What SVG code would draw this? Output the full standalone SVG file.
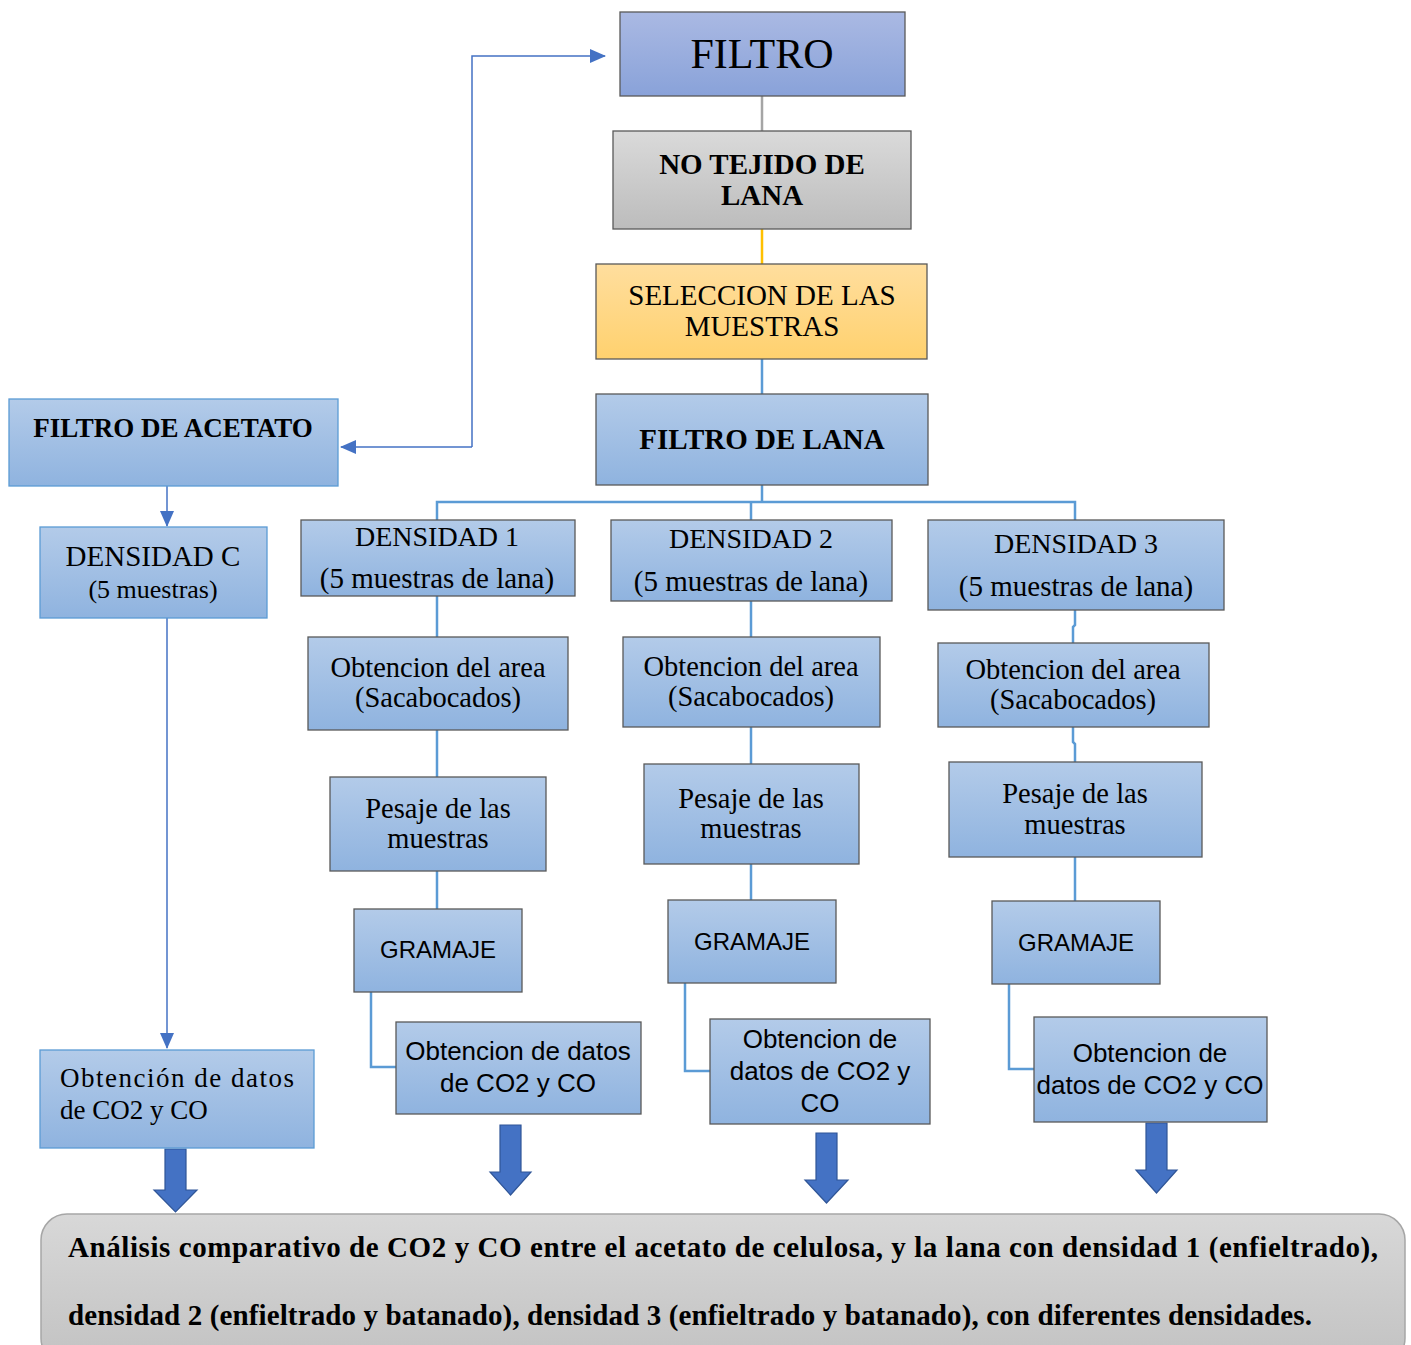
<svg xmlns="http://www.w3.org/2000/svg" width="1411" height="1345" viewBox="0 0 1411 1345">
<defs>
<linearGradient id="gBlue" x1="0" y1="0" x2="0" y2="1"><stop offset="0" stop-color="#b3cbe9"/><stop offset="1" stop-color="#8fb3df"/></linearGradient>
<linearGradient id="gFiltro" x1="0" y1="0" x2="0" y2="1"><stop offset="0" stop-color="#aab9e3"/><stop offset="1" stop-color="#89a2d9"/></linearGradient>
<linearGradient id="gGray" x1="0" y1="0" x2="0" y2="1"><stop offset="0" stop-color="#dadada"/><stop offset="1" stop-color="#bcbcbc"/></linearGradient>
<linearGradient id="gOrange" x1="0" y1="0" x2="0" y2="1"><stop offset="0" stop-color="#ffde9e"/><stop offset="1" stop-color="#ffd16e"/></linearGradient>
<linearGradient id="gBottom" x1="0" y1="0" x2="0" y2="1"><stop offset="0" stop-color="#d8d8d8"/><stop offset="1" stop-color="#c2c2c2"/></linearGradient>
<marker id="ahL" markerWidth="16" markerHeight="14" refX="15" refY="7" orient="auto" markerUnits="userSpaceOnUse"><path d="M0,0 L16,7 L0,14 Z" fill="#4472c4"/></marker>
</defs>
<style>
.bx{fill:url(#gBlue);stroke:#595959;stroke-width:1.3}
.bxl{fill:url(#gBlue);stroke:#5b9bd5;stroke-width:1.3}
.t{font-family:"Liberation Serif","Times New Roman",serif;fill:#000;text-anchor:middle}
.tb{font-family:"Liberation Serif","Times New Roman",serif;font-weight:bold;fill:#000;text-anchor:middle}
.s{font-family:"Liberation Sans",Arial,sans-serif;fill:#000;text-anchor:middle}
.c{fill:none;stroke:#5b9bd5;stroke-width:2.5}
.a{fill:none;stroke:#4472c4;stroke-width:1.5}
.blk{fill:#4472c4;stroke:#2f5597;stroke-width:1.2}
</style>

<g id="connectors">
<line x1="762" y1="96" x2="762" y2="131" stroke="#a5a5a5" stroke-width="2.5"/>
<line x1="762" y1="229" x2="762" y2="264" stroke="#ffc000" stroke-width="2.5"/>
<line class="c" x1="762" y1="359" x2="762" y2="394"/>
<polyline class="c" points="762,485 762,502"/>
<polyline class="c" points="437,520 437,502 1075,502 1075,520"/>
<line class="c" x1="751" y1="502" x2="751" y2="520"/>
<line class="c" x1="437" y1="596" x2="437" y2="637"/>
<line class="c" x1="437" y1="730" x2="437" y2="777"/>
<line class="c" x1="437" y1="871" x2="437" y2="909"/>
<line class="c" x1="751" y1="601" x2="751" y2="637"/>
<line class="c" x1="751" y1="727" x2="751" y2="764"/>
<line class="c" x1="751" y1="864" x2="751" y2="900"/>
<polyline class="c" points="1075,610 1075,625 1073,627 1073,643"/>
<polyline class="c" points="1073,727 1073,742 1075,744 1075,762"/>
<line class="c" x1="1075" y1="857" x2="1075" y2="901"/>
<polyline class="c" points="371,992 371,1067 396,1067"/>
<polyline class="c" points="685,983 685,1071 710,1071"/>
<polyline class="c" points="1009,984 1009,1069 1034,1069"/>
<polyline class="a" points="472,447 472,56 605,56" marker-end="url(#ahL)"/>
<polyline class="a" points="472,447 341,447" marker-end="url(#ahL)"/>
<line class="a" x1="167" y1="486" x2="167" y2="526" marker-end="url(#ahL)"/>
<line class="a" x1="167" y1="618" x2="167" y2="1048" marker-end="url(#ahL)"/>
<path class="blk" d="M165,1149 H186 V1190 H197 L175.5,1212 L154,1190 H165 Z"/>
<path class="blk" d="M500,1125 H521 V1172 H531 L510.5,1195 L490,1172 H500 Z"/>
<path class="blk" d="M816,1133 H837 V1180 H848 L826.5,1203 L805,1180 H816 Z"/>
<path class="blk" d="M1146,1123 H1167 V1170 H1177 L1156.5,1193 L1136,1170 H1146 Z"/>
</g>

<g id="filtro">
<rect x="620" y="12" width="285" height="84" fill="url(#gFiltro)" stroke="#595959" stroke-width="1.3"/>
<text class="t" x="762" y="68" font-size="42">FILTRO</text>
</g>
<g id="no-tejido">
<rect x="613" y="131" width="298" height="98" fill="url(#gGray)" stroke="#595959" stroke-width="1.3"/>
<text class="tb" x="762" y="174" font-size="29">NO TEJIDO DE</text>
<text class="tb" x="762" y="205" font-size="29">LANA</text>
</g>
<g id="seleccion">
<rect x="596" y="264" width="331" height="95" fill="url(#gOrange)" stroke="#595959" stroke-width="1.3"/>
<text class="t" x="762" y="305" font-size="29">SELECCION DE LAS</text>
<text class="t" x="762" y="336" font-size="29">MUESTRAS</text>
</g>
<g id="filtro-lana">
<rect class="bx" x="596" y="394" width="332" height="91"/>
<text class="tb" x="762" y="449" font-size="29">FILTRO DE LANA</text>
</g>
<g id="filtro-acetato">
<rect class="bxl" x="9" y="399" width="329" height="87"/>
<text class="tb" x="173" y="437" font-size="27">FILTRO DE ACETATO</text>
</g>
<g id="densidad-c">
<rect class="bxl" x="40" y="527" width="227" height="91"/>
<text class="t" x="153" y="566" font-size="29">DENSIDAD C</text>
<text class="t" x="153" y="598" font-size="26">(5 muestras)</text>
</g>
<g id="obtencion-c">
<rect class="bxl" x="40" y="1050" width="274" height="98"/>
<text class="t" x="60" y="1087" font-size="27" textLength="234" lengthAdjust="spacing" style="text-anchor:start">Obtención de datos</text>
<text class="t" x="60" y="1119" font-size="27" style="text-anchor:start">de CO2 y CO</text>
</g>

<g id="densidad-1">
<rect class="bx" x="301" y="520" width="274" height="76"/>
<text class="t" x="437" y="546" font-size="28">DENSIDAD 1</text>
<text class="t" x="437" y="588" font-size="29">(5 muestras de lana)</text>
</g>
<g id="densidad-2">
<rect class="bx" x="611" y="520" width="281" height="81"/>
<text class="t" x="751" y="548" font-size="28">DENSIDAD 2</text>
<text class="t" x="751" y="591" font-size="29">(5 muestras de lana)</text>
</g>
<g id="densidad-3">
<rect class="bx" x="928" y="520" width="296" height="90"/>
<text class="t" x="1076" y="553" font-size="28">DENSIDAD 3</text>
<text class="t" x="1076" y="596" font-size="29">(5 muestras de lana)</text>
</g>

<g id="area-1">
<rect class="bx" x="308" y="637" width="260" height="93"/>
<text class="t" x="438" y="677" font-size="28.5">Obtencion del area</text>
<text class="t" x="438" y="707" font-size="28.5">(Sacabocados)</text>
</g>
<g id="area-2">
<rect class="bx" x="623" y="637" width="257" height="90"/>
<text class="t" x="751" y="676" font-size="28.5">Obtencion del area</text>
<text class="t" x="751" y="706" font-size="28.5">(Sacabocados)</text>
</g>
<g id="area-3">
<rect class="bx" x="938" y="643" width="271" height="84"/>
<text class="t" x="1073" y="679" font-size="28.5">Obtencion del area</text>
<text class="t" x="1073" y="709" font-size="28.5">(Sacabocados)</text>
</g>

<g id="pesaje-1">
<rect class="bx" x="330" y="777" width="216" height="94"/>
<text class="t" x="438" y="818" font-size="28.5">Pesaje de las</text>
<text class="t" x="438" y="848" font-size="28.5">muestras</text>
</g>
<g id="pesaje-2">
<rect class="bx" x="644" y="764" width="215" height="100"/>
<text class="t" x="751" y="808" font-size="28.5">Pesaje de las</text>
<text class="t" x="751" y="838" font-size="28.5">muestras</text>
</g>
<g id="pesaje-3">
<rect class="bx" x="949" y="762" width="253" height="95"/>
<text class="t" x="1075" y="803" font-size="28.5">Pesaje de las</text>
<text class="t" x="1075" y="834" font-size="28.5">muestras</text>
</g>

<g id="gramaje-1">
<rect class="bx" x="354" y="909" width="168" height="83"/>
<text class="s" x="438" y="958" font-size="24">GRAMAJE</text>
</g>
<g id="gramaje-2">
<rect class="bx" x="668" y="900" width="168" height="83"/>
<text class="s" x="752" y="950" font-size="24">GRAMAJE</text>
</g>
<g id="gramaje-3">
<rect class="bx" x="992" y="901" width="168" height="83"/>
<text class="s" x="1076" y="951" font-size="24">GRAMAJE</text>
</g>

<g id="datos-1">
<rect class="bx" x="396" y="1022" width="245" height="92"/>
<text class="s" x="518" y="1060" font-size="26">Obtencion de datos</text>
<text class="s" x="518" y="1092" font-size="26">de CO2 y CO</text>
</g>
<g id="datos-2">
<rect class="bx" x="710" y="1019" width="220" height="105"/>
<text class="s" x="820" y="1048" font-size="26">Obtencion de</text>
<text class="s" x="820" y="1080" font-size="26">datos de CO2 y</text>
<text class="s" x="820" y="1112" font-size="26">CO</text>
</g>
<g id="datos-3">
<rect class="bx" x="1034" y="1017" width="233" height="105"/>
<text class="s" x="1150" y="1062" font-size="26">Obtencion de</text>
<text class="s" x="1150" y="1094" font-size="26">datos de CO2 y CO</text>
</g>

<g id="analisis">
<rect x="41" y="1214" width="1364" height="150" rx="26" ry="26" fill="url(#gBottom)" stroke="#a6a6a6" stroke-width="1.5"/>
<text class="tb" x="68" y="1257" font-size="29" style="text-anchor:start" textLength="1310" lengthAdjust="spacing">Análisis comparativo de CO2 y CO entre el acetato de celulosa, y la lana con densidad 1 (enfieltrado),</text>
<text class="tb" x="68" y="1325" font-size="29" style="text-anchor:start" textLength="1244" lengthAdjust="spacing">densidad 2 (enfieltrado y batanado), densidad 3 (enfieltrado y batanado), con diferentes densidades.</text>
</g>
</svg>
